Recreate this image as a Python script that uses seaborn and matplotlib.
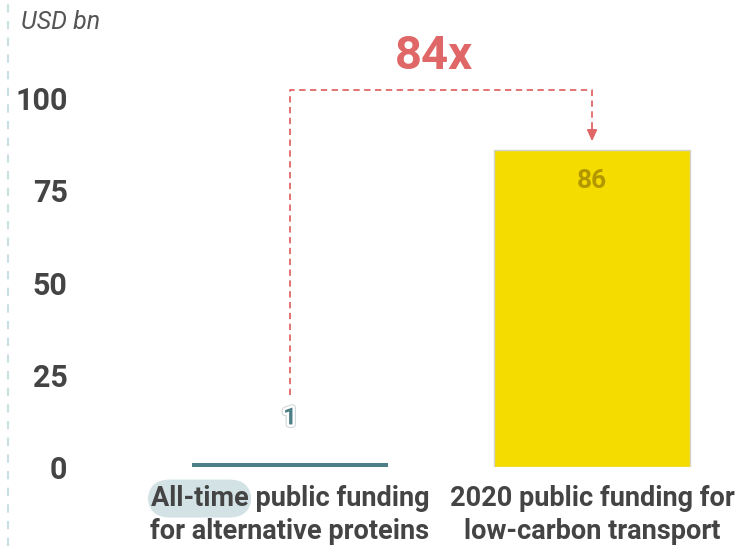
import matplotlib
matplotlib.use("Agg")
import matplotlib.pyplot as plt
import matplotlib.patheffects as pe
from matplotlib.patches import FancyBboxPatch
from matplotlib.lines import Line2D
import seaborn as sns
import pandas as pd

# Data
categories = ["All-time public funding\nfor alternative proteins",
              "2020 public funding for\nlow-carbon transport"]
values = [1, 86]
value_labels = ["1", "86"]
multiple_label = "84x"
y_ticks = [0, 25, 50, 75, 100]
unit_label = "USD bn"
highlight_word = "All-time"

bar_colors = ["#4d7f87", "#f5dc00"]
label_colors = ["#4d7f87", "#b39700"]
accent = "#e06767"
tick_color = "#444444"

sns.set_theme(style="white")
plt.rcParams["font.family"] = ["Roboto", "DejaVu Sans"]

W, H = 741, 549
fig = plt.figure(figsize=(W / 100, H / 100), dpi=100)
ax = fig.add_axes([80 / W, 82 / H, (W - 80) / W, (H - 82) / H])
ax.set_facecolor("none")

df = pd.DataFrame({"category": categories, "value": values})
sns.barplot(data=df, x="category", y="value", hue="category",
            palette=bar_colors, width=0.65, saturation=1,
            legend=False, ax=ax)
for i, bar in enumerate(ax.patches):
    if i == 1:
        bar.set_edgecolor("#d2d2c8")
        bar.set_linewidth(1.0)
    else:
        bar.set_linewidth(0)

ax.set_xlim(-0.695, 1.493)
ax.set_ylim(0, 126.6)
ax.set_yticks(y_ticks)
ax.set_yticklabels([str(t) for t in y_ticks])
ax.set_xlabel("")
ax.set_ylabel("")
for s in ax.spines.values():
    s.set_visible(False)
ax.tick_params(axis="y", length=0, pad=9, labelsize=22, labelcolor=tick_color)
ax.tick_params(axis="x", length=0, pad=13, labelsize=19.5, labelcolor=tick_color)
for lab in ax.get_yticklabels() + ax.get_xticklabels():
    lab.set_fontweight("bold")
for lab in ax.get_xticklabels():
    lab.set_linespacing(1.28)

# Value labels
ax.text(0, 13.3, value_labels[0], ha="center", va="center", fontsize=17,
        fontweight="bold", color=label_colors[0],
        path_effects=[pe.Stroke(linewidth=5, foreground="#cfd6d8"),
                      pe.Stroke(linewidth=3.5, foreground="white"),
                      pe.Normal()])
ax.text(1, 77.5, value_labels[1], ha="center", va="center", fontsize=19,
        fontweight="bold", color=label_colors[1])

# Dashed bracket from the small bar to the large bar
dash = (0, (3.5, 2.5))
ax.plot([0, 0, 1, 1], [19.5, 102.2, 102.2, 91], color=accent, lw=1.3,
        linestyle=dash, solid_capstyle="butt")
ax.annotate("", xy=(1, 88.3), xytext=(1, 92),
            arrowprops=dict(arrowstyle="-|>,head_length=0.55,head_width=0.25",
                            color=accent, lw=1.3, shrinkA=0, shrinkB=0))
ax.text(0.477, 111.5, multiple_label, ha="center", va="center", fontsize=34,
        fontweight="bold", color=accent)

# Unit label and left guide line
fig.text(21 / W, 1 - 22 / H, unit_label, ha="left", va="center",
         fontsize=18, style="italic", color="#555555")
fig.add_artist(Line2D([8 / W, 8 / W], [0.005, 1], transform=fig.transFigure,
                      color="#c9dfe2", lw=1.5, linestyle=(0, (4, 4))))

# Pill highlight behind the first word of the first category label
fig.canvas.draw()
renderer = fig.canvas.get_renderer()
lab0 = ax.get_xticklabels()[0]
bb = lab0.get_window_extent(renderer)
fp = lab0.get_fontproperties()
probe_line = fig.text(0, 0, categories[0].split("\n")[0], fontproperties=fp)
probe_word = fig.text(0, 0, highlight_word, fontproperties=fp)
w_line = probe_line.get_window_extent(renderer).width
wb = probe_word.get_window_extent(renderer)
line_h = probe_line.get_window_extent(renderer).height
probe_line.remove()
probe_word.remove()
cx = (bb.x0 + bb.x1) / 2
x_left = cx - w_line / 2
cy = bb.y1 - line_h / 2
pad_x, half_h = 3, 19
x0, y0 = x_left - pad_x, cy - half_h
x1, y1 = x_left + wb.width + pad_x, cy + half_h
inv = fig.transFigure.inverted()
(fx0, fy0), (fx1, fy1) = inv.transform([(x0, y0), (x1, y1)])
pill = FancyBboxPatch((fx0, fy0), fx1 - fx0, fy1 - fy0,
                      boxstyle="round,pad=0,rounding_size=0.03",
                      transform=fig.transFigure, facecolor="#d3e2e4",
                      edgecolor="none", zorder=-1,
                      mutation_aspect=W / H)
fig.patches.append(pill)

fig.savefig("out.png", dpi=100)
